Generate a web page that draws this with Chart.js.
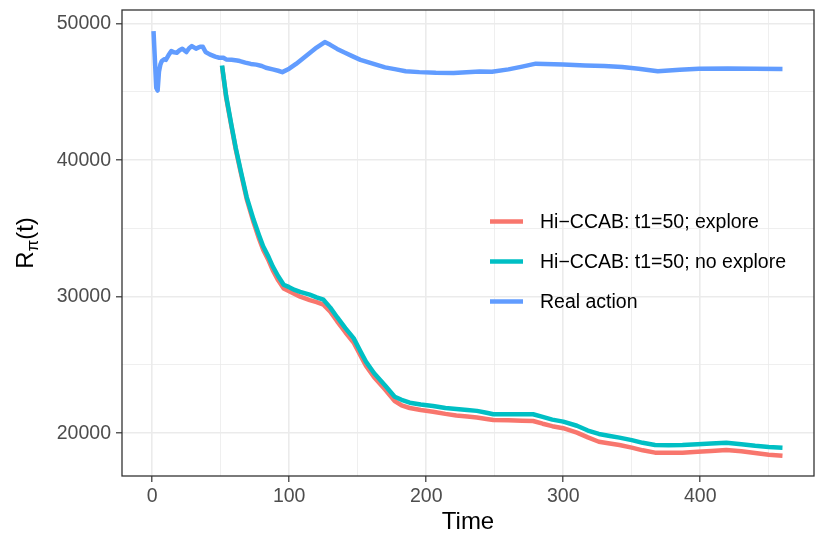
<!DOCTYPE html>
<html>
<head>
<meta charset="utf-8">
<script src="https://cdn.jsdelivr.net/npm/chart.js@4.4.0/dist/chart.umd.min.js"></script>
<style>
  html, body { margin: 0; padding: 0; background: #fff; overflow: hidden; }
  #rewardChart { display: block; }
</style>
</head>
<body>
<canvas id="rewardChart" width="830" height="551"></canvas>
<script>
// ---- values ----
const realTime = [1, 3, 4, 5, 6, 7, 9, 10, 12, 14, 16, 18, 20, 22, 25, 27, 29, 32, 35, 37, 39, 42, 46, 49,
  52, 54, 58, 62, 64, 68, 72, 76, 80, 83, 88, 92, 95, 100, 105, 110, 115, 120, 126, 130, 135, 140,
  146, 152, 161, 170, 178, 185, 195, 207, 220, 239, 248, 260, 270, 280, 300, 316, 330, 343, 355,
  369, 385, 399, 420, 440, 460];
const realReward = [49460, 45300, 45100, 46500, 47000, 47260, 47400, 47350, 47700, 47990, 47900, 47870,
  48050, 48160, 47920, 48200, 48360, 48170, 48310, 48300, 47920, 47750, 47580, 47500,
  47500, 47380, 47350, 47300, 47260, 47150, 47050, 47000, 46900, 46770, 46650, 46550, 46450, 46700,
  47050, 47450, 47850, 48250, 48650, 48450, 48150, 47900,
  47620, 47350, 47070, 46800, 46650, 46520, 46450, 46400, 46380, 46500, 46480, 46650, 46850, 47070,
  47000, 46940, 46900, 46820, 46700, 46520, 46620, 46700, 46720, 46690, 46670];

const hiTime = [51, 54, 58, 61, 65, 69, 74, 78, 81, 85, 88, 92, 96, 100, 104, 108, 115, 120, 125, 130,
  135, 141, 147, 152, 156, 162, 170, 177, 182, 188, 196, 205, 214, 222, 230, 237, 244, 249, 260,
  270, 278, 285, 292, 300, 310, 318, 326, 334, 341, 350, 358, 367, 377, 387, 398, 408, 419, 430,
  440, 450, 460];
const exploreReward = [46900, 44600, 42400, 40800, 38950, 37150, 35450, 34250, 33450, 32650, 31950,
  31200, 30600, 30400, 30200, 30000, 29750, 29600, 29420, 28900, 28200, 27400, 26650, 25700, 24950,
  24100, 23200, 22350, 22050, 21850, 21700, 21580, 21420, 21300, 21220, 21150, 21050, 20970, 20950,
  20920, 20900, 20700, 20520, 20370, 20050, 19700, 19380, 19250, 19140, 18950, 18750, 18580, 18570,
  18580, 18650, 18700, 18770, 18680, 18550, 18430, 18360];
const noExploreReward = [46940, 44700, 42490, 40900, 39070, 37300, 35650, 34500, 33690, 32900, 32220,
  31500, 30880, 30700, 30500, 30350, 30150, 29950, 29780, 29200, 28500, 27700, 26970, 26000, 25250,
  24400, 23500, 22680, 22450, 22240, 22100, 22000, 21850, 21780, 21700, 21640, 21500, 21390, 21400,
  21390, 21390, 21200, 21000, 20850, 20550, 20200, 19950, 19800, 19680, 19500, 19300, 19140, 19130,
  19140, 19200, 19250, 19310, 19200, 19080, 18990, 18940];

const xMajorTicks = [0, 100, 200, 300, 400];
const xMinorTicks = [50, 150, 250, 350, 450];
const yMajorTicks = [20000, 30000, 40000, 50000];
const yMinorTicks = [25000, 35000, 45000];

const seriesLabels = ['Hi\u2212CCAB: t1=50; explore', 'Hi\u2212CCAB: t1=50; no explore', 'Real action'];
const seriesColors = ['#F8766D', '#00BFC4', '#619CFF'];

const FONT = "'Liberation Sans', Arial, Helvetica, sans-serif";

const toPoints = (xs, ys) => xs.map((x, i) => ({ x: x, y: ys[i] }));

function lineSet(label, color, points, order) {
    return {
        label: label,
        data: points,
        borderColor: color,
        backgroundColor: color,
        borderWidth: 4.5,
        pointRadius: 0,
        tension: 0,
        fill: false,
        borderJoinStyle: 'round',
        borderCapStyle: 'butt',
        order: order,
    };
}

// major + minor ticks, only majors get labels and tick marks
function axisTicks(major, minor) {
    return {
        afterBuildTicks: (scale) => {
            scale.ticks = major.concat(minor).sort((a, b) => a - b).map(v => ({ value: v }));
        },
        ticks: {
            autoSkip: false,
            maxRotation: 0,
            color: '#4D4D4D',
            font: { family: FONT, size: 19.5 },
            callback: (value) => major.includes(value) ? String(value) : '',
        },
        grid: {
            color: '#EBEBEB',
            lineWidth: (c) => (c.tick && major.includes(c.tick.value)) ? 1.6 : 0.8,
            drawTicks: true,
            tickLength: 6,
            tickColor: (c) => (c.tick && major.includes(c.tick.value)) ? '#333333' : 'rgba(0,0,0,0)',
            tickWidth: 1.2,
        },
        border: { display: false },
    };
}

//----- panel border drawn on top like ggplot -----
const panelBorder = {
    id: 'panelBorder',
    afterDatasetsDraw(chart) {
        const a = chart.chartArea;
        const c = chart.ctx;
        c.save();
        c.strokeStyle = '#333333';
        c.lineWidth = 1.3;
        c.strokeRect(a.left, a.top, a.right - a.left, a.bottom - a.top);
        c.restore();
    }
};

//----- y title with subscript pi -----
const yTitle = {
    id: 'yTitle',
    afterDraw(chart) {
        const c = chart.ctx;
        const a = chart.chartArea;
        const big = '24px ' + FONT;
        const small = '17px ' + FONT;
        c.save();
        c.font = big;
        const wR = c.measureText('R').width;
        const wT = c.measureText('(t)').width;
        c.font = small;
        const wP = c.measureText('\u03c0').width;
        const total = wR + wP + wT;
        c.translate(33, (a.top + a.bottom) / 2);
        c.rotate(-Math.PI / 2);
        c.fillStyle = '#000';
        c.textBaseline = 'alphabetic';
        c.textAlign = 'left';
        let x = -total / 2;
        c.font = big;
        c.fillText('R', x, 0);
        x += wR;
        c.font = small;
        c.fillText('\u03c0', x, 5);
        x += wP;
        c.font = big;
        c.fillText('(t)', x, 0);
        c.restore();
    }
};

//----- legend inside the panel, transparent background -----
const insideLegend = {
    id: 'insideLegend',
    afterDraw(chart) {
        const c = chart.ctx;
        const rows = [0, 1, 2];
        c.save();
        c.font = '19.5px ' + FONT;
        c.textBaseline = 'middle';
        c.textAlign = 'left';
        rows.forEach((i) => {
            const ds = chart.data.datasets[i];
            const y = 221.5 + i * 40;
            c.strokeStyle = ds.borderColor;
            c.lineWidth = 4.5;
            c.lineCap = 'butt';
            c.beginPath();
            c.moveTo(490, y);
            c.lineTo(523, y);
            c.stroke();
            c.fillStyle = '#000';
            c.fillText(ds.label, 540, y + 1);
        });
        c.restore();
    }
};

const ctx = document.getElementById('rewardChart').getContext('2d');

const xAxis = axisTicks(xMajorTicks, xMinorTicks);
xAxis.type = 'linear';
xAxis.position = 'bottom';
xAxis.min = -22;
xAxis.max = 483;
xAxis.afterFit = (scale) => {
    scale.height = 75;
    scale.paddingLeft = 0;
    scale.paddingRight = 0;
};
xAxis.ticks.padding = 3;
xAxis.title = {
    display: true,
    text: 'Time',
    color: '#000',
    font: { family: FONT, size: 24 },
    padding: { top: 0, bottom: 14 },
};

const yAxis = axisTicks(yMajorTicks, yMinorTicks);
yAxis.type = 'linear';
yAxis.position = 'left';
yAxis.min = 16870;
yAxis.max = 51000;
yAxis.afterFit = (scale) => {
    scale.width = 122;
    scale.paddingTop = 0;
    scale.paddingBottom = 0;
};
yAxis.ticks.padding = 5;

const rewardChart = new Chart(ctx, {
    type: 'line',
    data: {
        datasets: [
            lineSet(seriesLabels[0], seriesColors[0], toPoints(hiTime, exploreReward), 2),
            lineSet(seriesLabels[1], seriesColors[1], toPoints(hiTime, noExploreReward), 1),
            lineSet(seriesLabels[2], seriesColors[2], toPoints(realTime, realReward), 0),
        ],
    },
    options: {
        responsive: false,
        animation: false,
        devicePixelRatio: 1,
        layout: { padding: { top: 10, right: 16, left: 0, bottom: 0 } },
        plugins: {
            legend: { display: false },
            tooltip: { enabled: false },
        },
        scales: { x: xAxis, y: yAxis },
    },
    plugins: [panelBorder, yTitle, insideLegend],
});
</script>
</body>
</html>
